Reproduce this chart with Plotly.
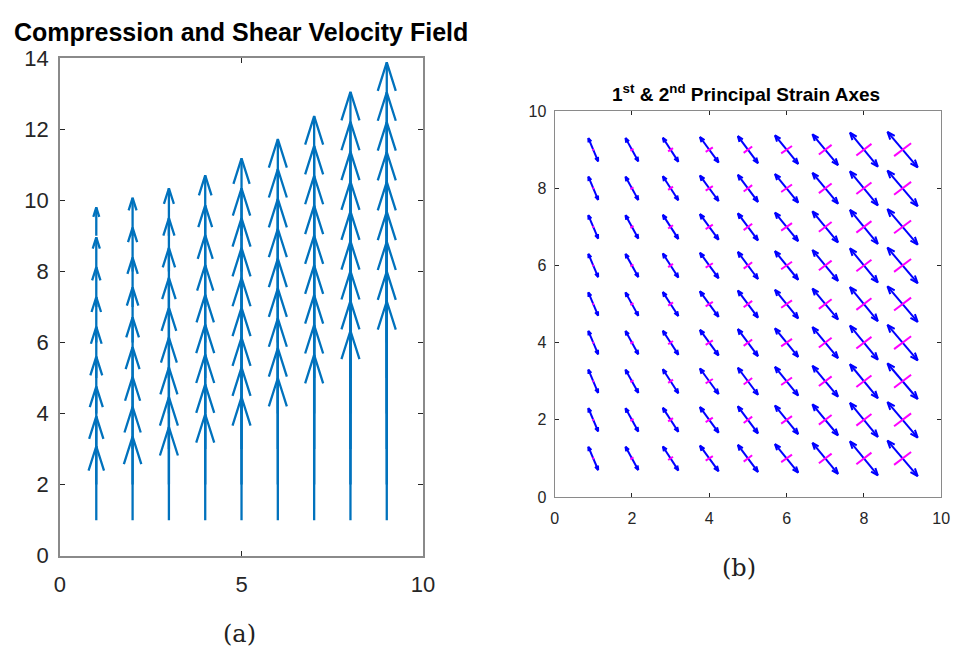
import plotly.graph_objects as go

# ---------------- data: panel (a) velocity field ----------------
COLUMNS_A = [1, 2, 3, 4, 5, 6, 7, 8, 9]
ARROW_BASE_Y = [1, 2, 3, 4, 5, 6, 7, 8, 9]
# arrow tip heights for each column, base y = 1..9
TIPS_A = [
    [3.08, 3.92, 4.76, 5.60, 6.44, 7.28, 8.12, 8.96, 9.80],
    [3.35, 4.19, 5.03, 5.87, 6.71, 7.55, 8.39, 9.23, 10.07],
    [3.62, 4.46, 5.30, 6.14, 6.98, 7.82, 8.66, 9.50, 10.34],
    [3.98, 4.82, 5.66, 6.50, 7.34, 8.18, 9.02, 9.86, 10.70],
    [4.46, 5.30, 6.14, 6.98, 7.82, 8.66, 9.50, 10.34, 11.18],
    [5.00, 5.84, 6.68, 7.52, 8.36, 9.20, 10.04, 10.88, 11.72],
    [5.65, 6.49, 7.33, 8.17, 9.01, 9.85, 10.69, 11.53, 12.37],
    [6.33, 7.17, 8.01, 8.85, 9.69, 10.53, 11.37, 12.21, 13.05],
    [7.16, 8.00, 8.84, 9.68, 10.52, 11.36, 12.20, 13.04, 13.88],
]
XTICKS_A = [0, 5, 10]
YTICKS_A = [0, 2, 4, 6, 8, 10, 12, 14]

# ---------------- data: panel (b) principal strain axes ----------------
COLUMNS_B = [1, 2, 3, 4, 5, 6, 7, 8, 9]
ROWS_B = [1, 2, 3, 4, 5, 6, 7, 8, 9]
# 1st principal axis half-vector per column (x, y components)
P1_U = [0.127, 0.165, 0.20, 0.24, 0.26, 0.30, 0.33, 0.36, 0.39]
P1_V = [-0.30, -0.30, -0.31, -0.33, -0.35, -0.37, -0.40, -0.44, -0.46]
# 2nd principal axis half-vector per column
P2_U = [0.02, 0.04, 0.063, 0.093, 0.11, 0.14, 0.165, 0.195, 0.22]
P2_V = [0.012, 0.025, 0.042, 0.058, 0.083, 0.097, 0.125, 0.15, 0.167]
TICKS_B = [0, 2, 4, 6, 8, 10]

# ---------------- build arrow geometry ----------------
ax_x, ax_y = [], []
for ci, cx in enumerate(COLUMNS_A):
    for bi, by in enumerate(ARROW_BASE_Y):
        tip = TIPS_A[ci][bi]
        length = tip - by
        back = min(0.33 * length, 0.8)
        hw = 0.31 * back
        ax_x += [cx, cx, None, cx - hw, cx, cx + hw, None]
        ax_y += [by, tip, None, tip - back, tip, tip - back, None]

b1x, b1y, b2x, b2y = [], [], [], []
for ci, cx in enumerate(COLUMNS_B):
    u, v = P1_U[ci], P1_V[ci]
    L = (u * u + v * v) ** 0.5
    ux, uy = u / L, v / L
    back = 0.33 * L
    hw = 0.38 * back
    for ry in ROWS_B:
        b1x += [cx - u, cx + u, None]
        b1y += [ry - v, ry + v, None]
        for s in (1, -1):
            tx, ty = cx + s * u, ry + s * v
            bxp, byp = tx - s * ux * back, ty - s * uy * back
            b1x += [bxp - uy * hw, tx, bxp + uy * hw, None]
            b1y += [byp + ux * hw, ty, byp - ux * hw, None]
        b2x += [cx - P2_U[ci], cx + P2_U[ci], None]
        b2y += [ry - P2_V[ci], ry + P2_V[ci], None]

fig = go.Figure()
fig.add_trace(go.Scatter(x=ax_x, y=ax_y, mode="lines",
                         line=dict(color="#0072BD", width=2.3),
                         xaxis="x", yaxis="y", hoverinfo="skip", showlegend=False))
fig.add_trace(go.Scatter(x=b1x, y=b1y, mode="lines",
                         line=dict(color="#0000FF", width=2),
                         xaxis="x2", yaxis="y2", hoverinfo="skip", showlegend=False))
fig.add_trace(go.Scatter(x=b2x, y=b2y, mode="lines",
                         line=dict(color="#FF00FF", width=2),
                         xaxis="x2", yaxis="y2", hoverinfo="skip", showlegend=False))

axis_common = dict(showgrid=False, zeroline=False, showline=True,
                   linecolor="#8a8a8a", mirror="ticks", ticks="inside",
                   tickcolor="#262626")
tick_font_a = dict(family="Liberation Sans, Arial, sans-serif", size=22, color="#262626")
tick_font_b = dict(family="Liberation Sans, Arial, sans-serif", size=16, color="#262626")

fig.update_layout(
    width=966, height=663,
    margin=dict(l=0, r=0, t=0, b=0),
    paper_bgcolor="white", plot_bgcolor="white",
    xaxis=dict(domain=[55 / 966, 425 / 966], range=[0, 10], tickvals=XTICKS_A,
               ticklen=5, linewidth=1.5, tickfont=tick_font_a, ticklabelstandoff=8,
               anchor="y", **axis_common),
    yaxis=dict(domain=[1 - 565 / 663, 1 - 48 / 663], range=[0, 14], tickvals=YTICKS_A,
               ticklen=5, linewidth=1.5, tickfont=tick_font_a, ticklabelstandoff=5,
               anchor="x", **axis_common),
    xaxis2=dict(domain=[559 / 966, 953 / 966], range=[0, 10], tickvals=TICKS_B,
                ticklen=4, linewidth=1.2, tickfont=tick_font_b, ticklabelstandoff=7,
                anchor="y2", **axis_common),
    yaxis2=dict(domain=[1 - 504 / 663, 1 - 103 / 663], range=[0, 10], tickvals=TICKS_B,
                ticklen=4, linewidth=1.2, tickfont=tick_font_b, ticklabelstandoff=4,
                anchor="x2", **axis_common),
    annotations=[
        dict(text="<b>Compression and Shear Velocity Field</b>", x=239 / 966, y=1 - 21 / 663,
             xref="paper", yref="paper", showarrow=False, xanchor="center", yanchor="middle",
             font=dict(family="Liberation Sans, Arial, sans-serif", size=25, color="black")),
        dict(text="<b>1<sup>st</sup> &amp; 2<sup>nd</sup> Principal Strain Axes</b>",
             x=754 / 966, y=1 - 84 / 663,
             xref="paper", yref="paper", showarrow=False, xanchor="center", yanchor="middle",
             font=dict(family="Liberation Sans, Arial, sans-serif", size=19, color="black")),
        dict(text="(a)", x=238 / 966, y=1 - 646 / 663, xref="paper", yref="paper",
             showarrow=False, xanchor="center", yanchor="middle",
             font=dict(family="DejaVu Serif, Liberation Serif, serif", size=24, color="#222222")),
        dict(text="(b)", x=747 / 966, y=1 - 578 / 663, xref="paper", yref="paper",
             showarrow=False, xanchor="center", yanchor="middle",
             font=dict(family="DejaVu Serif, Liberation Serif, serif", size=24, color="#222222")),
    ],
)

fig.write_html("out.html")
